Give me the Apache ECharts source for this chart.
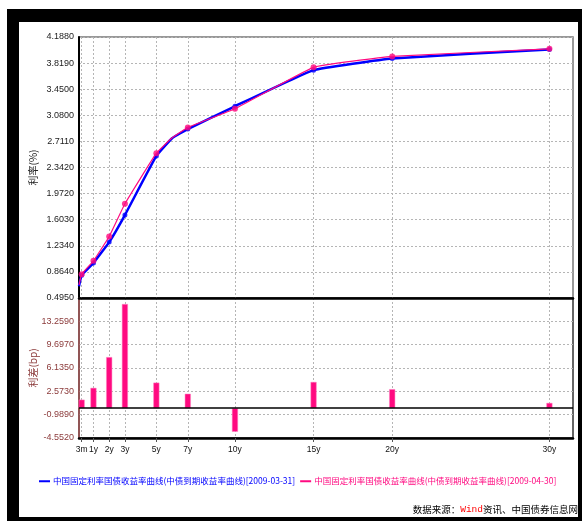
<!DOCTYPE html>
<html><head><meta charset="utf-8">
<script src="https://cdn.jsdelivr.net/npm/echarts@6/dist/echarts.min.js"></script>
<style>
html,body{margin:0;padding:0;background:#fff;}
#frame{position:absolute;left:7px;top:9px;width:575px;height:512px;background:#000;}
#inner{position:absolute;left:19px;top:22px;width:559px;height:495px;background:#fff;}
#chart{position:absolute;left:0;top:0;width:582px;height:521px;}
</style></head><body>
<div id="frame"></div><div id="inner"></div><div id="chart"></div>
<script>
// ---- data ----
const tenorLabels = ['3m','1y','2y','3y','5y','7y','10y','15y','20y','30y'];
const tenorYears  = [0.25, 1, 2, 3, 5, 7, 10, 15, 20, 30];
const blueYield   = [0.818, 0.990, 1.286, 1.669, 2.505, 2.886, 3.208, 3.719, 3.884, 4.012];
const pinkYield   = [0.831, 1.021, 1.364, 1.828, 2.544, 2.908, 3.172, 3.759, 3.913, 4.020];
const spreadBp    = [1.3, 3.1, 7.8, 15.9, 3.9, 2.2, -3.6, 4.0, 2.9, 0.8];
// extra unmarked curve points (1m and 6y)
const extraYears  = [0.08, 6];
const blueExtra   = [0.660, 2.755];
const pinkExtra   = [0.680, 2.762];
const topTicks    = ['0.4950','0.8640','1.2340','1.6030','1.9720','2.3420','2.7110','3.0800','3.4500','3.8190','4.1880'];
const bottomTicks = ['-4.5520','-0.9890','2.5730','6.1350','9.6970','13.2590','16.8210'];
const blueName = '中国固定利率国债收益率曲线(中债到期收益率曲线)[2009-03-31]';
const pinkName = '中国固定利率国债收益率曲线(中债到期收益率曲线)[2009-04-30]';

function curve(xs, ys, ex, ey){
  const pts = xs.map((x,i)=>[x, ys[i]]).concat(ex.map((x,i)=>[x, ey[i]]));
  pts.sort((a,b)=>a[0]-b[0]);
  return pts;
}
const topMin = parseFloat(topTicks[0]), topMax = parseFloat(topTicks[topTicks.length-1]);
const topInt = (topMax-topMin)/(topTicks.length-1);
const botMin = parseFloat(bottomTicks[0]), botMax = parseFloat(bottomTicks[bottomTicks.length-1]);
const botInt = (botMax-botMin)/(bottomTicks.length-1);

const BLUE = '#0000FF', PINK = '#FF0A80', BROWN = '#8B3A3A';
const FONT = 'Liberation Sans';
const CJK = 'Noto Sans CJK SC';
const XMIN = 0.08, XMAX = 31.5;
const grid0 = {left:79, top:37, width:494, height:261};
const grid1 = {left:79, top:298, width:494, height:140};

const chart = echarts.init(document.getElementById('chart'), null, {renderer:'canvas'});
chart.setOption({
  backgroundColor: 'transparent',
  animation: false,
  grid: [
    Object.assign({show:true, borderColor:'#777', borderWidth:1.5, backgroundColor:'transparent'}, grid0),
    Object.assign({show:true, borderColor:'#333', borderWidth:1.5, backgroundColor:'transparent'}, grid1)
  ],
  xAxis: [
    {gridIndex:0, type:'value', min:XMIN, max:XMAX,
     axisLine:{show:true, onZero:false, lineStyle:{color:'#000', width:2.5}},
     axisTick:{show:false, customValues:tenorYears},
     axisLabel:{show:false, customValues:tenorYears},
     splitLine:{show:true, lineStyle:{color:'#b5b5b5', type:[2,2], width:1}}},
    {gridIndex:1, type:'value', min:XMIN, max:XMAX,
     axisLine:{show:true, onZero:false, lineStyle:{color:'#000', width:2.5}},
     axisTick:{show:true, length:4, customValues:tenorYears, lineStyle:{color:'#555'}},
     axisLabel:{show:true, customValues:tenorYears, margin:7, fontSize:8.5, fontFamily:FONT, color:'#111',
       hideOverlap:false,
       formatter:(v)=>{const i=tenorYears.indexOf(v); return i>=0?tenorLabels[i]:'';}},
     splitLine:{show:true, lineStyle:{color:'#b5b5b5', type:[2,2], width:1}}}
  ],
  yAxis: [
    {gridIndex:0, type:'value', min:topMin, max:topMax, interval:topInt,
     name:'利率(%)', nameLocation:'middle', nameGap:41, nameRotate:90, nameMoveOverlap:false,
     nameTextStyle:{fontFamily:CJK, fontSize:10, color:'#222'},
     axisLine:{show:true, lineStyle:{color:'#000', width:2}},
     axisTick:{show:false},
     axisLabel:{fontSize:9, fontFamily:FONT, color:'#222', margin:5,
       formatter:(v)=>topTicks[Math.round((v-topMin)/topInt)]||''},
     splitLine:{show:true, lineStyle:{color:'#b5b5b5', type:[2,2], width:1}}},
    {gridIndex:1, type:'value', min:botMin, max:botMax, interval:botInt,
     name:'利差(bp)', nameLocation:'middle', nameGap:41, nameRotate:90, nameMoveOverlap:false,
     nameTextStyle:{fontFamily:CJK, fontSize:10, color:BROWN},
     axisLine:{show:true, onZero:false, lineStyle:{color:'#A05050', width:1.5}},
     axisTick:{show:false},
     axisLabel:{fontSize:9, fontFamily:FONT, color:BROWN, margin:5, showMaxLabel:false,
       formatter:(v)=>{const i=Math.round((v-botMin)/botInt); return i===bottomTicks.length-1?'':bottomTicks[i];}},
     splitLine:{show:true, lineStyle:{color:'#b5b5b5', type:[2,2], width:1}}}
  ],
  legend: {
    orient:'horizontal', left: 39, top: 477, width: 560, itemGap: 5, itemWidth: 11, itemHeight: 2, icon:'rect',
    padding: 0,
    textStyle:{fontFamily:CJK, fontSize:8.5, padding:[0,0,0,-2]},
    data:[{name:blueName, textStyle:{color:BLUE}}, {name:pinkName, textStyle:{color:PINK}}]
  },
  graphic: [{
    type:'text', right:4, top:504,
    style:{
      text:'{a|数据来源：}{w|Wind}{a|资讯、中国债券信息网}',
      rich:{
        a:{fontFamily:CJK, fontSize:9.5, fill:'#000'},
        w:{fontFamily:'Liberation Mono', fontSize:9.5, fill:'#FF0000'}
      }
    }
  }],
  series: [
    {name:blueName, type:'line', xAxisIndex:0, yAxisIndex:0,
     data: curve(tenorYears, blueYield, extraYears, blueExtra),
     smooth:0.1, showSymbol:false,
     lineStyle:{color:BLUE, width:2.5}, itemStyle:{color:BLUE}, z:2},
    {name:blueName+'_pts', type:'scatter', xAxisIndex:0, yAxisIndex:0,
     data: tenorYears.map((x,i)=>[x, blueYield[i]]),
     symbol:'circle', symbolSize:5, itemStyle:{color:BLUE}, z:3},
    {name:pinkName, type:'line', xAxisIndex:0, yAxisIndex:0,
     data: curve(tenorYears, pinkYield, extraYears, pinkExtra),
     smooth:0.1, showSymbol:false,
     lineStyle:{color:PINK, width:1.2}, itemStyle:{color:PINK}, z:4},
    {name:pinkName+'_pts', type:'scatter', xAxisIndex:0, yAxisIndex:0,
     data: tenorYears.map((x,i)=>[x, pinkYield[i]]),
     symbol:'circle', symbolSize:6, itemStyle:{color:PINK}, z:5},
    {name:'spread', type:'bar', xAxisIndex:1, yAxisIndex:1,
     data: tenorYears.map((x,i)=>[x, spreadBp[i]]),
     barWidth:6, itemStyle:{color:PINK, borderColor:'#FF80C0', borderWidth:0.5},
     markLine:{silent:true, symbol:'none', label:{show:false},
       lineStyle:{color:'#000', type:'solid', width:1.5},
       data:[{yAxis:0}]}}
  ]
});
</script>
</body></html>
